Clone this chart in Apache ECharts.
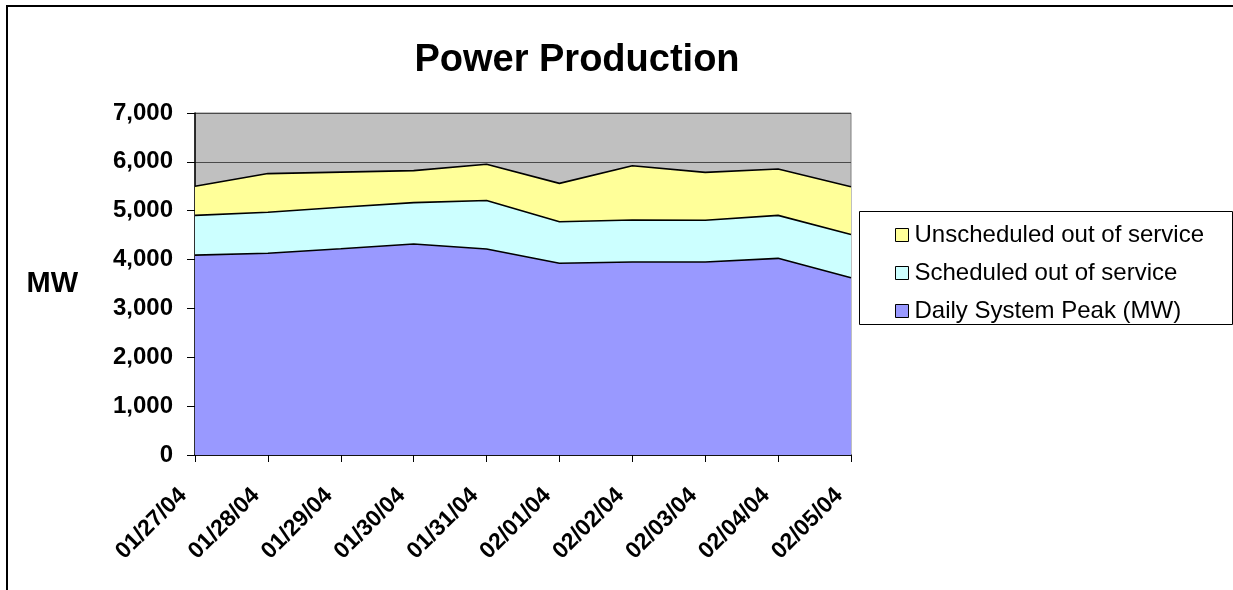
<!DOCTYPE html>
<html>
<head>
<meta charset="utf-8">
<script src="https://cdn.jsdelivr.net/npm/echarts@6/dist/echarts.min.js"></script>
<style>
  html, body { margin: 0; padding: 0; background: #fff; }
  #chart { width: 1233px; height: 590px; }
</style>
</head>
<body>
<div id="chart"></div>
<script>
// dates on the x axis
var days = ['01/27/04', '01/28/04', '01/29/04', '01/30/04', '01/31/04',
            '02/01/04', '02/02/04', '02/03/04', '02/04/04', '02/05/04'];
// stacked values, MW (bottom to top)
var peak        = [4090, 4130, 4220, 4320, 4215, 3925, 3950, 3950, 4025, 3630];
var scheduled   = [815, 840, 850, 845, 995, 850, 860, 855, 880, 885];
var unscheduled = [595, 790, 720, 655, 740, 785, 1110, 980, 950, 975];
var yTicks = [0, 1000, 2000, 3000, 4000, 5000, 6000, 7000];

var FONT = '"Liberation Sans", Arial, sans-serif';

var chart = echarts.init(document.getElementById('chart'));

function areaSeries(name, data, color) {
  return {
    name: name,
    type: 'line',
    stack: 'mw',
    data: data,
    symbol: 'none',
    lineStyle: { color: '#000', width: 1.6 },
    areaStyle: { color: color, opacity: 1 },
    itemStyle: { color: color, borderColor: '#000', borderWidth: 1 },
    emphasis: { disabled: true }
  };
}

var option = {
  backgroundColor: '#fff',
  animation: false,
  title: {
    text: 'Power Production',
    left: 572,
    textAlign: 'center',
    top: 37,
    textStyle: { fontFamily: FONT, fontSize: 38, fontWeight: 'bold', color: '#000' }
  },
  grid: {
    left: 195, right: 382, top: 113, bottom: 135,
    show: true,
    backgroundColor: '#c0c0c0',
    borderColor: '#808080',
    borderWidth: 1
  },
  legend: {
    orient: 'vertical',
    left: 890,
    top: 218,
    itemWidth: 13,
    itemHeight: 13,
    itemGap: 14,
    textStyle: { fontFamily: FONT, fontSize: 24, color: '#000', padding: [0, 0, 0, 1] },
    data: [
      { name: 'Unscheduled out of service', icon: 'rect',
        itemStyle: { color: '#ffff99', borderColor: '#000', borderWidth: 1 } },
      { name: 'Scheduled out of service', icon: 'rect',
        itemStyle: { color: '#ccffff', borderColor: '#000', borderWidth: 1 } },
      { name: 'Daily System Peak (MW)', icon: 'rect',
        itemStyle: { color: '#9999ff', borderColor: '#000', borderWidth: 1 } }
    ]
  },
  xAxis: {
    type: 'category',
    data: days,
    boundaryGap: false,
    axisLine: { lineStyle: { color: '#000', width: 1.5 } },
    axisTick: { show: true, length: 7, lineStyle: { color: '#000', width: 1 } },
    axisLabel: {
      rotate: 45,
      margin: 25,
      padding: [0, 17, 0, 0],
      fontFamily: FONT,
      fontSize: 23,
      fontWeight: 'bold',
      color: '#000'
    }
  },
  yAxis: {
    type: 'value',
    min: 0,
    max: 7000,
    interval: 1000,
    name: 'MW',
    nameLocation: 'middle',
    nameRotate: 0,
    nameGap: 117,
    nameTextStyle: { fontFamily: FONT, fontSize: 29, fontWeight: 'bold', color: '#000' },
    axisLine: { show: true, lineStyle: { color: '#000', width: 1.5 } },
    axisTick: { show: true, length: 8, lineStyle: { color: '#000', width: 1 } },
    splitLine: { show: true, lineStyle: { color: '#4a4a4a', width: 1 } },
    axisLabel: {
      margin: 22,
      fontFamily: FONT,
      fontSize: 24,
      fontWeight: 'bold',
      color: '#000',
      customValues: yTicks,
      formatter: function (v) { return v.toLocaleString('en-US'); }
    }
  },
  graphic: [
    { type: 'rect', z: 0,
      shape: { x: 859.5, y: 211.5, width: 373, height: 113 },
      style: { fill: '#fff', stroke: '#000', lineWidth: 1 } },
    { type: 'rect', z: 0, silent: true,
      shape: { x: 7, y: 6, width: 1400, height: 700 },
      style: { fill: null, stroke: '#000', lineWidth: 2 } }
  ],
  series: [
    areaSeries('Daily System Peak (MW)', peak, '#9999ff'),
    areaSeries('Scheduled out of service', scheduled, '#ccffff'),
    areaSeries('Unscheduled out of service', unscheduled, '#ffff99')
  ]
};

chart.setOption(option);
</script>
</body>
</html>
